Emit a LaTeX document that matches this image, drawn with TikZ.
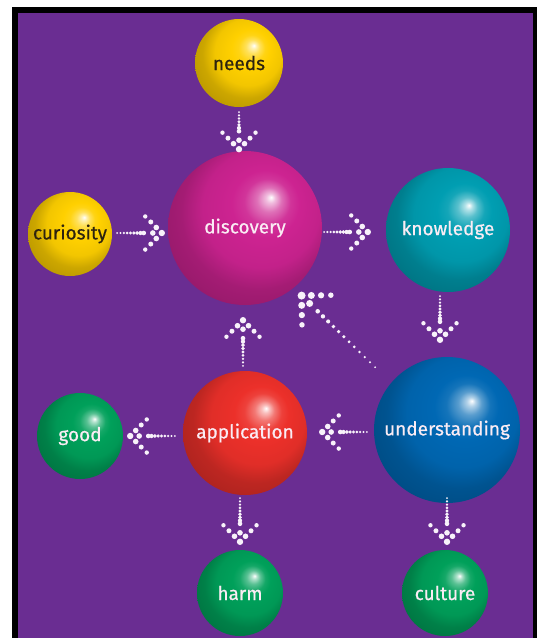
\documentclass[tikz,border=0pt]{standalone}
\usepackage{fontspec}
\setmainfont{Fira Sans}
\newfontfamily\lblfont{Fira Sans}[FakeBold=0.6]
\usetikzlibrary{calc}
\definecolor{bgpurple}{RGB}{106,45,146}
\definecolor{cyellow}{RGB}{255,208,0}
\definecolor{cmagenta}{RGB}{205,35,145}
\definecolor{cteal}{RGB}{0,158,178}
\definecolor{cblue}{RGB}{0,104,180}
\definecolor{cred}{RGB}{236,48,42}
\definecolor{cgreen}{RGB}{0,160,90}
\definecolor{dotc}{RGB}{248,242,250}
\definecolor{darktext}{RGB}{45,35,15}
\definecolor{lighttext}{RGB}{250,236,244}
\colorlet{ballc}{red}
\pgfdeclareradialshading[ballc]{sphereshade}{\pgfqpoint{8.5bp}{10bp}}{%
  color(0bp)=(white); color(1.5bp)=(ballc!30!white); color(4bp)=(ballc!65!white);
  color(7.5bp)=(ballc!92!white); color(11bp)=(ballc); color(19bp)=(ballc!95!black);
  color(25bp)=(ballc!80!black); color(50bp)=(ballc!55!black)}
\tikzset{
  ballcol/.code={\colorlet{ballc}{#1}},
  sphere/.style={circle, inner sep=0pt, shade, shading=sphereshade,
    font=\lblfont\fontsize{19}{21}\selectfont, text=lighttext},
}
\newcommand\dotarrow[4][1]{%
  \coordinate (da-s) at #2;
  \coordinate (da-t) at #3;
  \coordinate (da-e) at ($(da-t)!{18pt*#1}!(da-s)$);
  \fill[dotc] (da-t) circle [radius=#1*3.2pt];
  \fill[dotc] ($(da-t)!{9pt*#1}!(da-s)$) circle [radius=#1*2.8pt];
  \foreach \k/\r in {1/2.8,2/2.5,3/2.2}{
    \fill[dotc] ($(da-t)!{\k*7.8pt*#1}!45:(da-s)$) circle [radius=#1*\r pt];
    \fill[dotc] ($(da-t)!{\k*7.8pt*#1}!-45:(da-s)$) circle [radius=#1*\r pt];
  }
  \foreach \i in {0,...,#4}{
    \pgfmathsetmacro\dat{\i/#4}
    \pgfmathsetmacro\drad{1.0+1.3*\dat}
    \fill[dotc] ($(da-s)!\dat!(da-e)$) circle [radius=\drad pt];
  }
}
\begin{document}
\begin{tikzpicture}[x=1pt,y=-1pt]
\useasboundingbox (0,0) rectangle (540,638);
\fill[white] (0,0) rectangle (540,638);
\fill[black] (12,7) rectangle (537,638);
\fill[bgpurple] (18,13) rectangle (533,638);

\node[sphere, ballcol=cyellow, minimum size=88pt, text=darktext] (needs) at (239,63) {needs};
\node[sphere, ballcol=cyellow, minimum size=84pt, text=darktext] (curiosity) at (70,234) {curiosity};
\node[sphere, ballcol=cmagenta, minimum size=154pt] (discovery) at (245,228) {discovery};
\node[sphere, ballcol=cteal, minimum size=124pt] (knowledge) at (448,230) {knowledge};
\node[sphere, ballcol=cblue, minimum size=146pt] (understanding) at (447,430) {understanding};
\node[sphere, ballcol=cred, minimum size=124pt] (application) at (245,433) {application};
\node[sphere, ballcol=cgreen, minimum size=86pt] (good) at (80,436) {good};
\node[sphere, ballcol=cgreen, minimum size=86pt] (harm) at (240,593) {harm};
\node[sphere, ballcol=cgreen, minimum size=86pt] (culture) at (445,593) {culture};

\dotarrow{($(needs.south)+(0,5)$)}{($(needs.south)+(0,42)$)}{6}
\dotarrow{($(curiosity.east)+(5,-1)$)}{($(discovery.west)+(-6,5)$)}{8}
\dotarrow{($(discovery.east)+(2,4)$)}{($(knowledge.west)+(-18,2)$)}{8}
\dotarrow{($(knowledge.south)+(-8,4)$)}{($(understanding.north)+(-7,-17)$)}{8}
\dotarrow{($(application.north)+(-2,-5)$)}{($(discovery.south)+(-2,15)$)}{8}
\dotarrow[1.25]{($(understanding.north west)+(-20,-11)$)}{($(discovery.south east)+(2,13)$)}{11}
\dotarrow{($(understanding.west)+(-7,2)$)}{($(application.east)+(15,-1)$)}{8}
\dotarrow{($(application.west)+(-8,3)$)}{($(good.east)+(7,0)$)}{8}
\dotarrow{($(application.south)+(-5,3)$)}{($(harm.north)+(0,-8)$)}{8}
\dotarrow{($(understanding.south)+(0,-5)$)}{($(culture.north)+(2,-8)$)}{8}
\end{tikzpicture}
\end{document}
